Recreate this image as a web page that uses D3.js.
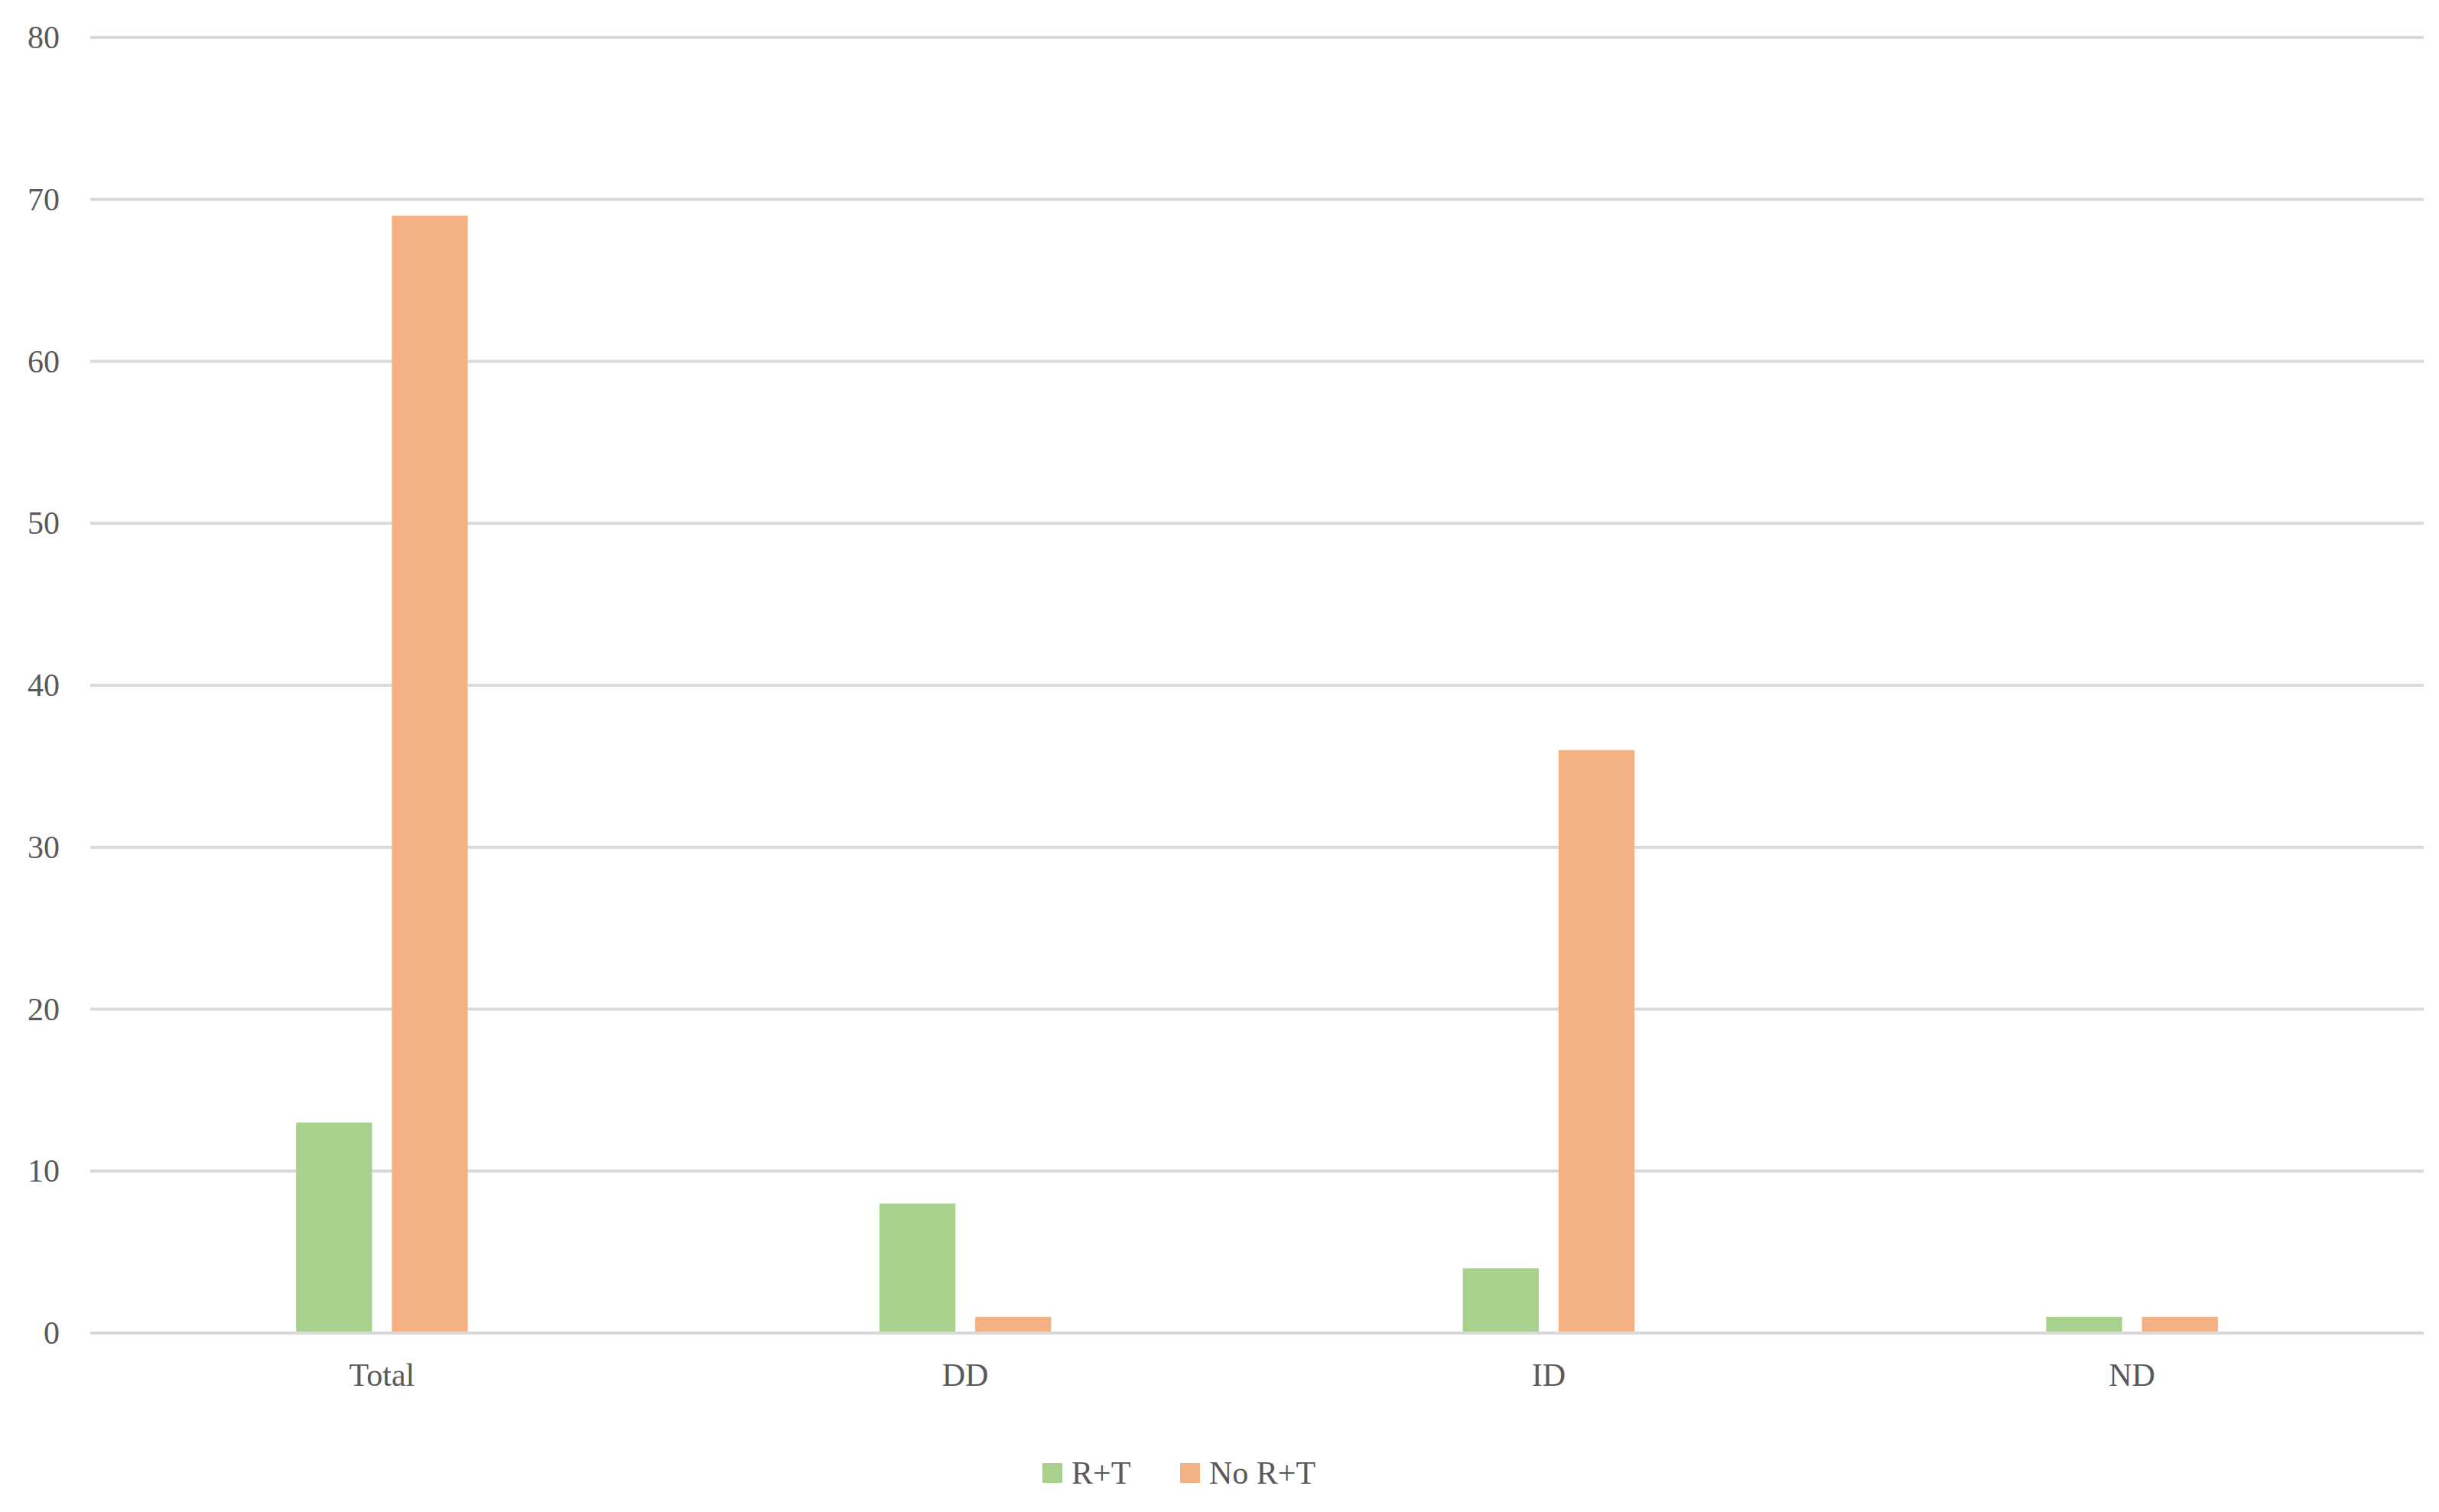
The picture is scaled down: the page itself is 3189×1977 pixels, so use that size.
<!DOCTYPE html>
<html>
<head>
<script src="https://d3js.org/d3.v7.min.js"></script>
<style>
body { margin: 0; background: #fff; }
text { font-family: "Liberation Serif", serif; fill: #595959; }
</style>
</head>
<body>
<svg id="chart" width="3189" height="1977"></svg>
<script>
var categories = ["Total", "DD", "ID", "ND"];
var seriesNames = ["R+T", "No R+T"];
var rtValues = [13, 8, 4, 1];
var noRtValues = [69, 1, 36, 1];
var yTicks = [0, 10, 20, 30, 40, 50, 60, 70, 80];
var colors = ["#a9d18e", "#f4b183"];

var svg = d3.select("#chart");
var plotLeft = 118, plotRight = 3169, plotTop = 49, plotBottom = 1743;

var x = d3.scaleBand().domain(categories).range([plotLeft, plotRight]);
var xs = d3.scaleBand().domain(seriesNames).range([0, x.bandwidth()]).paddingInner(0.207).paddingOuter(2.15);
var y = d3.scaleLinear().domain([0, 80]).range([plotBottom, plotTop]);

// gridlines
svg.append("g").selectAll("line").data(yTicks).enter().append("line")
  .attr("x1", plotLeft).attr("x2", plotRight)
  .attr("y1", d => y(d)).attr("y2", d => y(d))
  .attr("stroke", "#d9d9d9").attr("stroke-width", 4);

svg.append("g").selectAll("text").data(yTicks).enter().append("text")
  .attr("x", 78).attr("y", d => y(d) + 14)
  .attr("text-anchor", "end").attr("font-size", 42)
  .text(d => d);

var series = [rtValues, noRtValues];
series.forEach(function(vals, i) {
  svg.append("g").selectAll("rect").data(vals).enter().append("rect")
    .attr("x", (d, j) => x(categories[j]) + xs(seriesNames[i]))
    .attr("width", xs.bandwidth())
    .attr("y", d => y(d))
    .attr("height", d => y(0) - y(d) - 2)
    .attr("fill", colors[i]);
});

svg.append("g").selectAll("text").data(categories).enter().append("text")
  .attr("x", d => x(d) + x.bandwidth() / 2)
  .attr("y", 1812).attr("text-anchor", "middle").attr("font-size", 42)
  .text(d => d);

// legend
var legX = [1363, 1543];
seriesNames.forEach(function(n, i) {
  svg.append("rect").attr("x", legX[i]).attr("y", 1913)
    .attr("width", 26).attr("height", 26).attr("fill", colors[i]);
  svg.append("text").attr("x", legX[i] + 38).attr("y", 1940)
    .attr("font-size", 42).text(n);
});
</script>
</body>
</html>
